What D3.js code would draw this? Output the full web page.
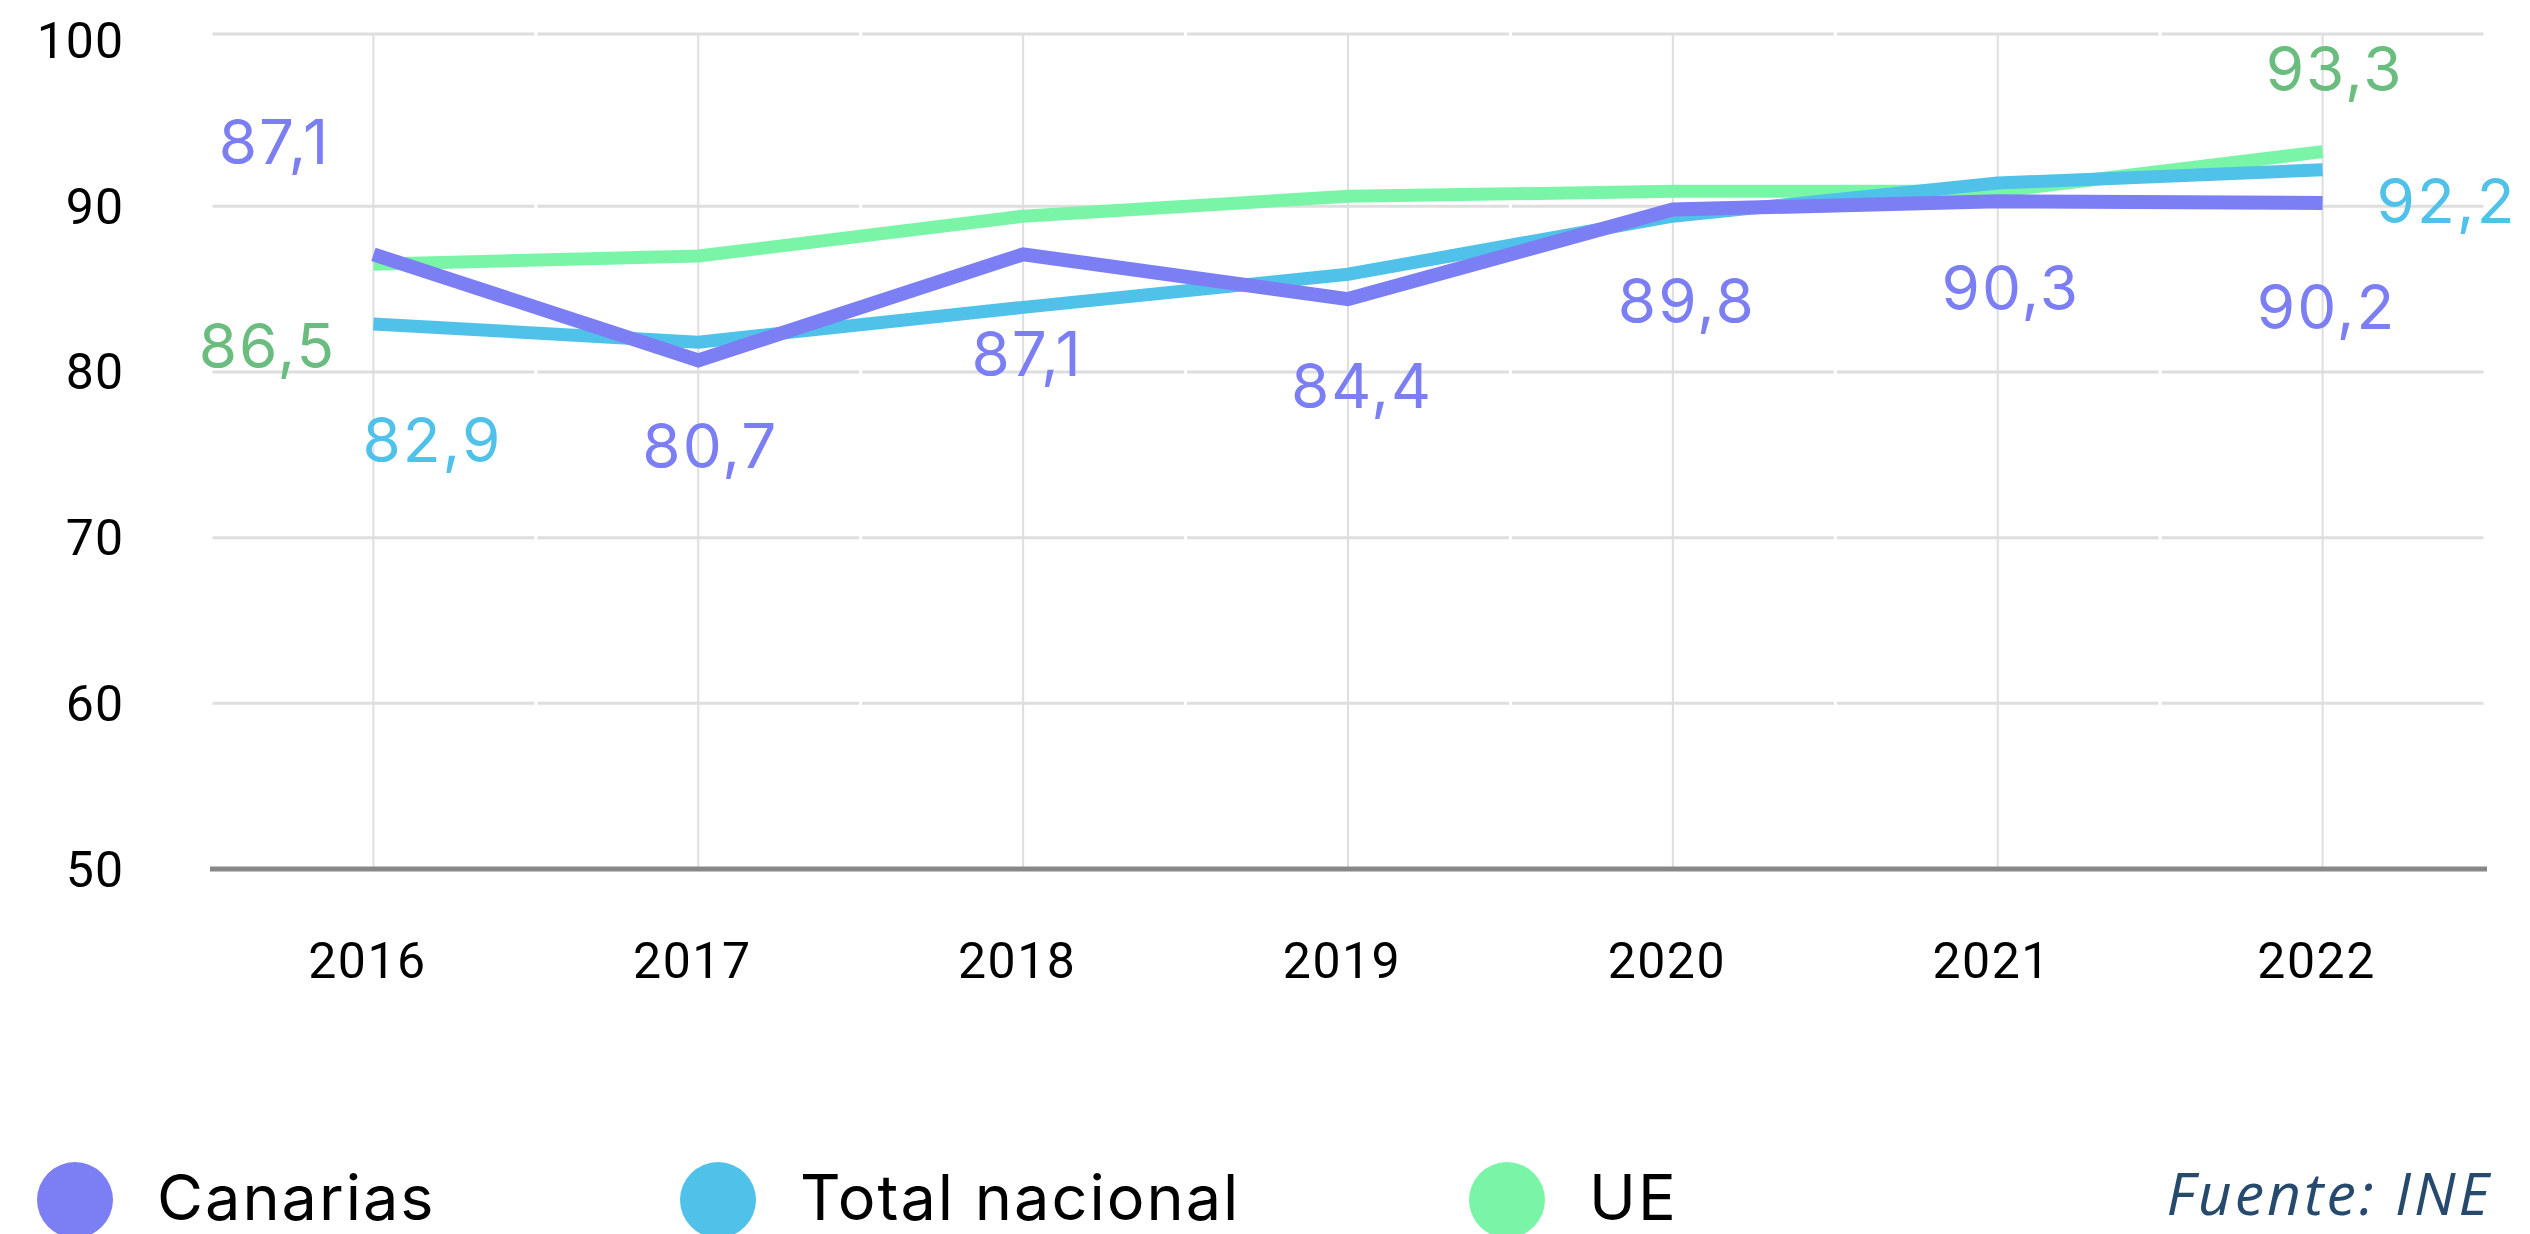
<!DOCTYPE html>
<html>
<head>
<meta charset="utf-8">
<script src="https://cdn.jsdelivr.net/npm/d3@7"></script>
<style>
  body { margin: 0; background: #fff; }
</style>
</head>
<body>
<div id="chart"></div>
<script>
// data
const years = ["2016", "2017", "2018", "2019", "2020", "2021", "2022"];
const canarias = [87.1, 80.7, 87.1, 84.4, 89.8, 90.3, 90.2];
const totalNacional = [82.9, 81.8, 83.9, 85.9, 89.4, 91.4, 92.2];
const ue = [86.5, 87.0, 89.4, 90.6, 90.9, 90.9, 93.3];
const yTicks = [50, 60, 70, 80, 90, 100];
const seriesNames = ["Canarias", "Total nacional", "UE"];
const source = "Fuente: INE";

// styling
const lineColors = {"Canarias": "#7c7ff4", "Total nacional": "#50c2ea", "UE": "#7af5a8"};
const labelColors = {"Canarias": "#7c7ff4", "Total nacional": "#50c2ea", "UE": "#6abd7f"};

// which points get a value label, and where it sits relative to the point
const labelSpots = [
  {s: "Canarias", i: 0, dx: -99, dy: -90},
  {s: "UE", i: 0, dx: -106, dy: 104},
  {s: "Total nacional", i: 0, dx: 59, dy: 138},
  {s: "Canarias", i: 1, dx: 12, dy: 108},
  {s: "Canarias", i: 2, dx: 4, dy: 122},
  {s: "Canarias", i: 3, dx: 14, dy: 109},
  {s: "Canarias", i: 4, dx: 14, dy: 113},
  {s: "Canarias", i: 5, dx: 13, dy: 109},
  {s: "Canarias", i: 6, dx: 4, dy: 126},
  {s: "UE", i: 6, dx: 12, dy: -61},
  {s: "Total nacional", i: 6, dx: 124, dy: 53}
];

const W = 2530, H = 1234;
const margin = {top: 34, right: 45, bottom: 365, left: 211},
    width = W - margin.left - margin.right,
    height = H - margin.top - margin.bottom;

const svg = d3.select("#chart")
    .append("svg")
    .attr("width", W)
    .attr("height", H);

const g = svg.append("g")
    .attr("transform", `translate(${margin.left}, ${margin.top})`);

const xBand = d3.scaleBand()
    .domain(years)
    .range([0, width]);
const x = d => xBand(d) + xBand.bandwidth() / 2;

const y = d3.scaleLinear()
    .domain([50, 100])
    .range([height, 6.6]);

const series = [
  {name: "Canarias", values: canarias},
  {name: "Total nacional", values: totalNacional},
  {name: "UE", values: ue}
];
const byName = Object.fromEntries(series.map(s => [s.name, s]));

const fmt = d3.formatLocale({decimal: ",", thousands: ".", grouping: [3], currency: ["", "€"]}).format(".1f");

// horizontal grid, broken at band edges; top line sits on the plot top
yTicks.filter(t => t !== 50).forEach(t => {
  g.selectAll(null)
    .data(years)
    .join("line")
    .attr("x1", d => xBand(d) + 1.5)
    .attr("x2", d => xBand(d) + xBand.bandwidth() - 1.5)
    .attr("y1", t === 100 ? 0 : y(t))
    .attr("y2", t === 100 ? 0 : y(t))
    .attr("stroke", "#dedede")
    .attr("stroke-width", 3);
});

// vertical grid at each year
g.selectAll(".vgrid")
  .data(years)
  .join("line")
    .attr("class", "vgrid")
    .attr("x1", d => x(d))
    .attr("x2", d => x(d))
    .attr("y1", 0)
    .attr("y2", height)
    .attr("stroke", "#dedede")
    .attr("stroke-width", 2);

// baseline
g.append("line")
    .attr("x1", -1)
    .attr("x2", width + 2)
    .attr("y1", y(50))
    .attr("y2", y(50))
    .attr("stroke", "#888")
    .attr("stroke-width", 5);

// y labels
g.selectAll(".ylab")
  .data(yTicks)
  .join("text")
    .attr("class", "ylab")
    .attr("x", -87)
    .attr("y", d => y(d))
    .attr("dy", "0.35em")
    .attr("text-anchor", "end")
    .attr("font-family", "Roboto, sans-serif")
    .attr("font-size", 50)
    .attr("letter-spacing", 1)
    .attr("fill", "#000")
    .text(d => d);

// x labels
g.selectAll(".xlab")
  .data(years)
  .join("text")
    .attr("class", "xlab")
    .attr("x", d => x(d) - 6)
    .attr("y", height + 109)
    .attr("text-anchor", "middle")
    .attr("font-family", "Roboto, sans-serif")
    .attr("font-size", 50)
    .attr("letter-spacing", 1.5)
    .attr("fill", "#000")
    .text(d => d);

// lines, UE at the back and Canarias on top
const line = d3.line()
    .x((d, i) => x(years[i]))
    .y(d => y(d));

g.selectAll(".series")
  .data(["UE", "Total nacional", "Canarias"].map(n => byName[n]))
  .join("path")
    .attr("class", "series")
    .attr("d", d => line(d.values))
    .attr("fill", "none")
    .attr("stroke", d => lineColors[d.name])
    .attr("stroke-width", d => d.name === "Canarias" ? 14 : 13)
    .attr("stroke-linejoin", "miter");

// value labels
g.selectAll(".vlab")
  .data(labelSpots)
  .join("text")
    .attr("class", "vlab")
    .attr("x", d => x(years[d.i]) + d.dx)
    .attr("y", d => y(byName[d.s].values[d.i]) + d.dy)
    .attr("text-anchor", "middle")
    .attr("font-family", "Inter, sans-serif")
    .attr("font-size", 62)
    .attr("letter-spacing", 2)
    .attr("fill", d => labelColors[d.s])
    .text(d => fmt(byName[d.s].values[d.i]));

// legend
const legendX = [75, 718, 1507];
const legend = svg.selectAll(".leg")
  .data(seriesNames)
  .join("g")
    .attr("class", "leg")
    .attr("transform", (d, i) => `translate(${legendX[i]}, 1200)`);

legend.append("circle")
    .attr("r", 38)
    .attr("fill", d => lineColors[d]);

legend.append("text")
    .attr("x", 82)
    .attr("y", 20)
    .attr("font-family", "Inter, sans-serif")
    .attr("font-size", 63)
    .attr("letter-spacing", 2)
    .attr("fill", "#000")
    .text(d => d);

svg.append("text")
    .attr("x", 2492)
    .attr("y", 1215)
    .attr("text-anchor", "end")
    .attr("font-family", "'Open Sans', sans-serif")
    .attr("font-style", "italic")
    .attr("font-size", 59)
    .attr("letter-spacing", 3)
    .attr("fill", "#264a6e")
    .text(source);
</script>
</body>
</html>
